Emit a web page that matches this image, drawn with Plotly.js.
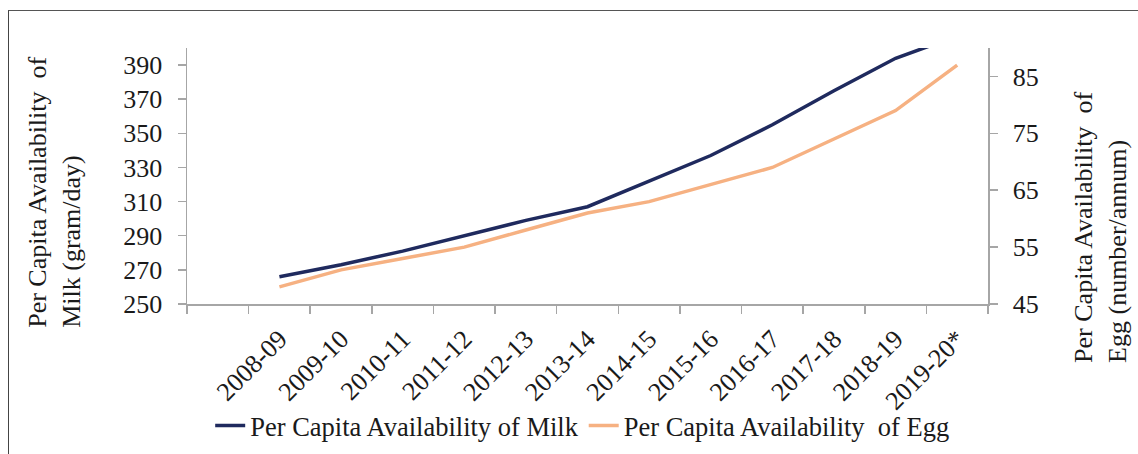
<!DOCTYPE html>
<html>
<head>
<meta charset="utf-8">
<script src="https://cdn.plot.ly/plotly-3.0.1.min.js"></script>
<style>
  html, body { margin: 0; padding: 0; background: #fff; }
  #wrap { position: relative; width: 1138px; height: 454px; overflow: hidden; }
  #frame { position: absolute; left: 8px; top: 10px; width: 1140px; height: 460px;
           border-left: 1.5px solid #444; border-top: 1.5px solid #555; pointer-events: none; }
  #chart { position: absolute; left: 0; top: 0; width: 1138px; height: 454px; }
</style>
</head>
<body>
<div id="wrap">
  <div id="chart"></div>
  <div id="frame"></div>
</div>
<script>
// Categories (first slot on the axis is empty in the original chart)
const categories = ["2008-09", "2009-10", "2010-11", "2011-12", "2012-13", "2013-14",
                    "2014-15", "2015-16", "2016-17", "2017-18", "2018-19", "2019-20*"];
const axisCategories = [" "].concat(categories);

// Per capita availability of milk (gram/day)
const milk = [266, 273, 281, 290, 299, 307, 322, 337, 355, 375, 394, 407];
// Per capita availability of egg (number/annum)
const egg = [48, 51, 53, 55, 58, 61, 63, 66, 69, 74, 79, 87];

const milkName = "Per Capita Availability of Milk";
const eggName = "Per Capita Availability\u00A0 of Egg";
const leftTitle = "Per Capita Availability\u00A0 of<br>Milk (gram/day)";
const rightTitle = "Per Capita Availability\u00A0 of<br>Egg (number/annum)";

const FONT = "'Liberation Serif', 'Times New Roman', serif";
const TXT = "#1a1a1a";
const AX = "#a6a6a6";

const traces = [
  { x: categories, y: milk, name: milkName, type: "scatter", mode: "lines",
    line: { color: "#1f2a5e", width: 3.5 }, yaxis: "y", cliponaxis: true },
  { x: categories, y: egg, name: eggName, type: "scatter", mode: "lines",
    line: { color: "#f6b182", width: 3.5 }, yaxis: "y2", cliponaxis: true }
];

const layout = {
  width: 1138, height: 454,
  margin: { l: 187, r: 150, t: 48, b: 150, autoexpand: false },
  paper_bgcolor: "rgba(0,0,0,0)", plot_bgcolor: "rgba(0,0,0,0)",
  font: { family: FONT, size: 26, color: TXT },
  showlegend: true,
  legend: { orientation: "h", xref: "paper", x: 0.494, xanchor: "center",
            yref: "container", y: 0.062, yanchor: "middle",
            font: { family: FONT, size: 26.5, color: TXT }, traceorder: "normal",
            itemwidth: 30, tracegroupgap: 0 },
  xaxis: {
    type: "category", categoryorder: "array", categoryarray: axisCategories,
    range: [-0.5, 12.5], tickson: "boundaries", ticks: "outside", ticklen: 8,
    tickcolor: AX, tickwidth: 1.5, showline: true, linecolor: AX, linewidth: 1.5,
    showgrid: false, zeroline: false, tickangle: -45, automargin: false,
    tickfont: { family: FONT, size: 26, color: TXT }, ticklabelstandoff: 8, fixedrange: true
  },
  yaxis: {
    range: [250, 400], tick0: 250, dtick: 20, ticks: "outside", ticklen: 8,
    tickcolor: AX, tickwidth: 1.5, showline: true, linecolor: AX, linewidth: 1.5,
    showgrid: false, zeroline: false, tickfont: { family: FONT, size: 26, color: TXT },
    ticklabelstandoff: 10, automargin: false
  },
  yaxis2: {
    overlaying: "y", side: "right", range: [45, 90], tick0: 45, dtick: 10,
    ticks: "outside", ticklen: 8, tickcolor: AX, tickwidth: 1.5, showline: true,
    linecolor: AX, linewidth: 1.5, showgrid: false, zeroline: false,
    tickfont: { family: FONT, size: 26, color: TXT }, ticklabelstandoff: 10, automargin: false
  },
  annotations: [
    { text: leftTitle, xref: "paper", yref: "paper", x: -0.1655, y: 0.436,
      xanchor: "center", yanchor: "middle", textangle: -90, align: "left",
      showarrow: false, font: { family: FONT, size: 26, color: TXT } },
    { text: rightTitle, xref: "paper", yref: "paper", x: 1.1406, y: 0.2997,
      xanchor: "center", yanchor: "middle", textangle: -90, align: "left",
      showarrow: false, font: { family: FONT, size: 26, color: TXT } }
  ]
};

Plotly.newPlot("chart", traces, layout, { displayModeBar: false, staticPlot: true });
</script>
</body>
</html>
